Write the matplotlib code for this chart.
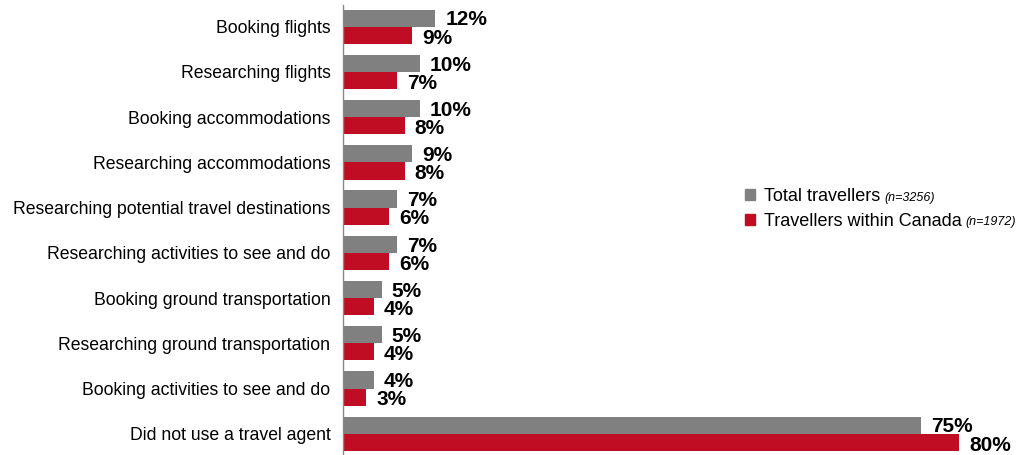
import matplotlib
matplotlib.use("Agg")
import matplotlib.pyplot as plt
import numpy as np
from matplotlib.patches import Patch
from matplotlib import font_manager

plt.rcParams['font.family'] = ['Liberation Sans', 'DejaVu Sans']

categories = ["Booking flights", "Researching flights", "Booking accommodations",
              "Researching accommodations", "Researching potential travel destinations",
              "Researching activities to see and do", "Booking ground transportation",
              "Researching ground transportation", "Booking activities to see and do",
              "Did not use a travel agent"]
total = [12, 10, 10, 9, 7, 7, 5, 5, 4, 75]
canada = [9, 7, 8, 8, 6, 6, 4, 4, 3, 80]
series_names = ["Total travellers", "Travellers within Canada"]
series_n = ["(n=3256)", "(n=1972)"]

gray = "#808080"
red = "#C00D23"

# narrow bold face for the value labels if it is there
names = {f.name for f in font_manager.fontManager.ttflist}
if "Liberation Sans Narrow" in names:
    val_family, val_size = "Liberation Sans Narrow", 17
else:
    val_family, val_size = "Liberation Sans", 15

fig = plt.figure(figsize=(10.18, 4.55), dpi=100)
ax = fig.add_axes([343 / 1018, 0.0, 1 - 343 / 1018 - 0.02, 1 - 5 / 455])

y = np.arange(len(categories))
h = 0.38
ax.barh(y - h / 2, total, height=h, color=gray, zorder=2)
ax.barh(y + h / 2, canada, height=h, color=red, zorder=2)

for yi, v in zip(y, total):
    ax.text(v + 1.3, yi - h / 2 + 0.04, f"{v}%", va="center", ha="left",
            fontsize=val_size, fontweight="bold", family=val_family)
for yi, v in zip(y, canada):
    ax.text(v + 1.3, yi + h / 2 + 0.06, f"{v}%", va="center", ha="left",
            fontsize=val_size, fontweight="bold", family=val_family)

ax.set_xlim(0, 85)
ax.set_ylim(9.47, -0.48)
ax.set_yticks(y)
ax.set_yticklabels(categories, fontsize=12.7)
ax.tick_params(axis="y", length=0, pad=9)
ax.set_xticks([])
for s in ["top", "right", "bottom"]:
    ax.spines[s].set_visible(False)
ax.spines["left"].set_color("#888888")
ax.spines["left"].set_linewidth(1)

handles = [Patch(color=gray), Patch(color=red)]
leg = fig.legend(handles, series_names, loc="upper left",
                 bbox_to_anchor=(745 / 1018, 1 - 188 / 455), frameon=False,
                 fontsize=13, handlelength=0.55, handleheight=0.55,
                 handletextpad=0.5, labelspacing=0.42, borderaxespad=0,
                 borderpad=0)

fig.canvas.draw()
r = fig.canvas.get_renderer()
inv = fig.transFigure.inverted()
for t, n in zip(leg.get_texts(), series_n):
    bb = t.get_window_extent(r)
    x0, y0 = inv.transform((bb.x1 + 4, (bb.y0 + bb.y1) / 2 - 1))
    fig.text(x0, y0, n, fontsize=9, style="italic", va="center", ha="left")

fig.savefig("out.png", dpi=100)
